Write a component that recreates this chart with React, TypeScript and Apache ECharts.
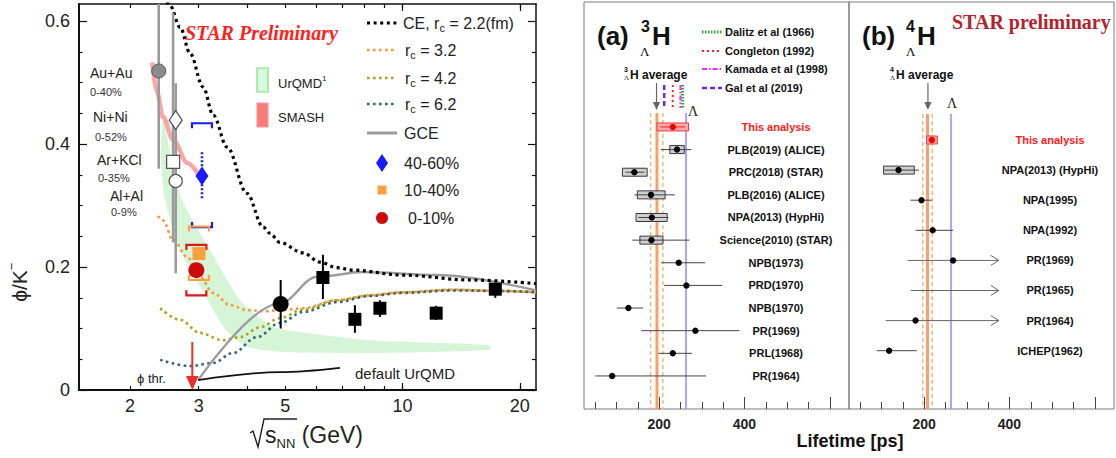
import React, { useEffect, useRef } from "react";
import * as echarts from "echarts";

// ---------------- φ/K⁻ versus √sNN ----------------
const energyTicks = [2, 3, 4, 5, 6, 7, 8, 9, 10, 20];
const energyMajor = [10, 20];
const energyLabels = [2, 3, 5, 10, 20];
const ratioMajor = [0, 0.2, 0.4, 0.6];
const ratioMinor = [0.05, 0.1, 0.15, 0.25, 0.3, 0.35, 0.45, 0.5, 0.55];

// canonical-ensemble thermal model, r_c = 2.2 fm
const ceEnergy = [2.49, 2.53, 2.69, 2.85, 3.08, 3.27, 3.55, 3.99, 4.39, 4.57, 4.85, 5.56, 6.14, 6.79, 7.46, 10.0, 14.9, 22.0];
const ceRatio = [0.632, 0.626, 0.59, 0.548, 0.493, 0.447, 0.395, 0.32, 0.265, 0.255, 0.24, 0.223, 0.208, 0.199, 0.195, 0.187, 0.179, 0.173];
// r_c = 3.2
const rc32Energy = [2.36, 2.43, 2.58, 2.81, 3.02, 3.27, 3.61, 3.99, 4.49, 4.85, 5.56, 6.79, 8.25, 10.0, 13.5, 18.1, 22.0];
const rc32Ratio = [0.283, 0.276, 0.244, 0.216, 0.184, 0.158, 0.138, 0.13, 0.128, 0.13, 0.133, 0.146, 0.154, 0.159, 0.163, 0.161, 0.159];
// r_c = 4.2
const rc42Energy = [2.39, 2.69, 3.02, 3.46, 3.83, 4.31, 4.85, 5.56, 6.79, 8.25, 10.0, 13.5, 18.1, 22.0];
const rc42Ratio = [0.133, 0.114, 0.093, 0.081, 0.086, 0.102, 0.117, 0.131, 0.146, 0.154, 0.159, 0.163, 0.161, 0.159];
// r_c = 6.2
const rc62Energy = [2.39, 2.85, 3.27, 3.67, 4.23, 4.85, 5.56, 6.79, 8.25, 10.0, 13.5, 18.1, 22.0];
const rc62Ratio = [0.049, 0.039, 0.044, 0.06, 0.086, 0.109, 0.127, 0.143, 0.153, 0.158, 0.162, 0.161, 0.159];
// grand-canonical ensemble
const gceEnergy = [2.99, 4.85, 6.03, 7.91, 12.25, 22.0];
const gceRatio = [0.016, 0.141, 0.184, 0.192, 0.187, 0.162];
// default UrQMD
const urqmdDefEnergy = [2.99, 4.85, 6.91];
const urqmdDefRatio = [0.016, 0.029, 0.036];
// SMASH
const smashEnergy = [2.28, 2.35, 2.43, 2.58, 2.81, 3.02];
const smashRatio = [0.533, 0.483, 0.444, 0.407, 0.369, 0.347];
// UrQMD band (upper and lower edges)
const urqmdUpEnergy = [2.43, 2.53, 2.72, 3.21, 3.83, 4.57, 4.94, 8.25, 16.75];
const urqmdUpRatio = [0.444, 0.39, 0.309, 0.228, 0.146, 0.105, 0.098, 0.081, 0.073];
const urqmdLoEnergy = [2.4, 2.46, 2.69, 3.17, 3.5, 3.99, 4.94, 8.25, 16.75];
const urqmdLoRatio = [0.38, 0.309, 0.228, 0.146, 0.1, 0.07, 0.062, 0.06, 0.065];

// world data (black)
const worldSqEnergy = [6.25, 7.55, 8.75, 12.2, 17.3];
const worldSqRatio = [0.183, 0.115, 0.133, 0.125, 0.164];
const worldSqLow = [0.148, 0.093, 0.119, 0.114, 0.15];
const worldSqHigh = [0.22, 0.138, 0.146, 0.137, 0.171];
const agsEnergy = [4.87];
const agsRatio = [0.14];
const agsLow = [0.1];
const agsHigh = [0.179];

// HADES / FOPI systems
const sysNames = ["Au+Au", "Ni+Ni", "Ar+KCl", "Al+Al"];
const sysCentrality = ["0-40%", "0-52%", "0-35%", "0-9%"];
const sysEnergy = [2.37, 2.62, 2.58, 2.62];
const sysRatio = [0.519, 0.439, 0.371, 0.34];
const sysBarEnergy = [2.37, 2.58, 2.62];
const sysBarLow = [0.36, 0.24, 0.19];
const sysBarHigh = [0.628, 0.613, 0.499];

// STAR 3 GeV, by centrality
const centLabels = ["40-60%", "10-40%", "0-10%"];
const centEnergy = [3.06, 3.006, 2.96];
const centRatio = [0.348, 0.222, 0.195];
const centStatLow = [0.312, 0.216, 0.188];
const centStatHigh = [0.387, 0.228, 0.202];
const centSysLow = [0.265, 0.179, 0.154];
const centSysHigh = [0.434, 0.266, 0.236];

const phiThreshold = 2.89;
const phiThresholdArrowTop = 0.078;

// ---------------- hypertriton / ⁴ΛH lifetimes ----------------
const lifeMinor = [50, 100, 150, 250, 300, 350, 450, 500, 550];
const lifeMajor = [200, 400, 600];
const lifeLabels = [200, 400];
const LIFE_MIN = 24;
const LIFE_MAX = 645;

const h3Labels = ["This analysis", "PLB(2019) (ALICE)", "PRC(2018) (STAR)", "PLB(2016) (ALICE)", "NPA(2013) (HypHi)", "Science(2010) (STAR)", "NPB(1973)", "PRD(1970)", "NPB(1970)", "PR(1969)", "PRL(1968)", "PR(1964)"];
const h3Lifetime = [232, 242, 142, 181, 183, 182, 246, 264, 128, 285, 232, 90];
const h3StatLow = [203, 204, 121, 142, 151, 137, 205, 212, 101, 158, 198, 50];
const h3StatHigh = [261, 276, 166, 237, 222, 271, 308, 348, 163, 388, 277, 310];
const h3SysLow = [195, 225, 114, 149, 146, 155, null, null, null, null, null, null];
const h3SysHigh = [269, 259, 172, 214, 219, 209, null, null, null, null, null, null];
const h3LowerLimit = h3Labels.map(() => false);
const h3RowMin = -5.52;
const h3RowMax = 12.46;

const h4Labels = ["This analysis", "NPA(2013) (HypHi)", "NPA(1995)", "NPA(1992)", "PR(1969)", "PR(1965)", "PR(1964)", "ICHEP(1962)"];
const h4Lifetime = [218, 140, 194, 220, 268, null, 180, 118];
const h4StatLow = [212, 107, 168, 180, 161, 169, 110, 89];
const h4StatHigh = [224, 188, 218, 268, 375, 375, 375, 183];
const h4SysLow = [206, 105, null, null, null, null, null, null];
const h4SysHigh = [231, 177, null, null, null, null, null, null];
const h4LowerLimit = [false, false, false, false, true, true, true, false];
const h4RowMin = -4.585;
const h4RowMax = 8.937;

// reference lines: average −σ, average, average +σ, free Λ
const h3RefLifetime = [180, 195, 209, 263];
const h4RefLifetime = [197, 208, 219, 263];
const h3RefFromRow = -0.62;
const h4RefFromRow = -0.86;
const h3AverageArrow = 194;
const h4AverageArrow = 209;

// theory predictions for ³ΛH
const theoryLabels = ["Dalitz et al (1966)", "Congleton (1992)", "Kamada et al (1998)", "Gal et al (2019)"];
const theoryLifetime = [255, 232, 250, 212];

// ---------------- styles ----------------
const SANS = '"Liberation Sans", Arial, Helvetica, sans-serif';
const SERIF = '"Liberation Serif", "Times New Roman", serif';
const C_ORANGE = "#f7963a";
const C_OLIVE = "#a5a522";
const C_TEAL = "#2f6a70";
const C_GCE = "#9c9c9c";
const C_BLUE = "#1a1aff";
const C_SQ = "#ffa040";
const C_RED = "#cc0a0a";
const refStyles = [
  { color: "#f7b07e", width: 1.4, dash: [4, 3] },
  { color: "#f6a06a", width: 3, dash: null },
  { color: "#f7b07e", width: 1.4, dash: [4, 3] },
  { color: "#8a8aff", width: 1.5, dash: null },
];
const theoryStyles = [
  { color: "#22b422", width: 3, dash: [1.5, 1.5] },
  { color: "#ff2020", width: 2, dash: [2, 3] },
  { color: "#ff22ff", width: 2, dash: [5, 2, 1.5, 2] },
  { color: "#7722dd", width: 2.5, dash: [5, 3] },
];
const bracketColors = [C_BLUE, C_SQ, "#dd1a1a"];

const LOG = (e: number) => Math.log10(e);
const pts = (xs: number[], ys: number[]) => xs.map((x, i) => [LOG(x), ys[i]]);

let measureCtx: CanvasRenderingContext2D | null = null;
function textWidth(text: string, font: string) {
  if (!measureCtx) measureCtx = document.createElement("canvas").getContext("2d");
  measureCtx!.font = font;
  return measureCtx!.measureText(text).width;
}

function txt(x: number, y: number, text: string, font: string, fill = "#222", align = "left") {
  return {
    type: "text",
    x,
    y,
    z: 50,
    style: { text, font, fill, textAlign: align, textVerticalAlign: "middle", align, verticalAlign: "middle" },
  };
}

type Part = { t: string; font: string; dy?: number; dx?: number; fill?: string };
function run(x: number, y: number, parts: Part[], fill = "#222") {
  const out: any[] = [];
  let cx = x;
  for (const p of parts) {
    cx += p.dx ?? 0;
    out.push(txt(cx, y + (p.dy ?? 0), p.t, p.font, p.fill ?? fill));
    cx += textWidth(p.t, p.font);
  }
  return out;
}

function seg(x1: number, y1: number, x2: number, y2: number, stroke: string, lineWidth: number, lineDash: number[] | null = null) {
  return { type: "line", z: 50, shape: { x1, y1, x2, y2 }, style: { stroke, lineWidth, lineDash } };
}

function rowRenderer(labels: string[], value: (number | null)[], statLo: number[], statHi: number[], sysLo: (number | null)[], sysHi: (number | null)[], lower: boolean[], labelOffset: number) {
  return (params: any, api: any) => {
    const i = params.dataIndex;
    const cs = params.coordSys;
    const y = api.coord([100, i])[1];
    const X = (v: number) => api.coord([v, i])[0];
    const hot = i === 0;
    const children: any[] = [];
    if (sysLo[i] != null) {
      const x1 = X(sysLo[i] as number);
      const x2 = X(sysHi[i] as number);
      children.push({
        type: "rect",
        shape: { x: x1, y: y - 4, width: x2 - x1, height: 8 },
        style: { fill: hot ? "#f8a8a8" : "#d0d0d0", stroke: hot ? "#ec3a3a" : "#3a3a3a", lineWidth: 1 },
      });
    }
    const s1 = X(statLo[i]);
    const s2 = X(statHi[i]);
    const barColor = hot ? "#e82020" : lower[i] ? "#666" : "#444";
    children.push({ type: "line", shape: { x1: s1, y1: y, x2: s2, y2: y }, style: { stroke: barColor, lineWidth: 1 } });
    if (lower[i]) {
      children.push({
        type: "polyline",
        shape: { points: [[s2 - 8, y - 5], [s2, y], [s2 - 8, y + 5]] },
        style: { stroke: "#666", lineWidth: 1, fill: null },
      });
    }
    if (value[i] != null) {
      children.push({ type: "circle", shape: { cx: X(value[i] as number), cy: y, r: 3.2 }, style: { fill: hot ? "#ee0000" : "#000" } });
    }
    children.push({
      type: "text",
      x: cs.x + labelOffset,
      y,
      style: {
        text: labels[i],
        font: `bold 11px ${SANS}`,
        fill: hot ? "#ff1a1a" : "#111",
        textAlign: "center",
        textVerticalAlign: "middle",
        align: "center",
        verticalAlign: "middle",
      },
    });
    return { type: "group", children };
  };
}

function vlineRenderer(styles: { color: string; width: number; dash: number[] | null }[]) {
  return (params: any, api: any) => {
    const v = api.value(0);
    const a = api.coord([v, api.value(1)]);
    const b = api.coord([v, api.value(2)]);
    const st = styles[params.dataIndex];
    return {
      type: "line",
      shape: { x1: a[0], y1: a[1], x2: b[0], y2: b[1] },
      style: { stroke: st.color, lineWidth: st.width, lineDash: st.dash },
    };
  };
}

function arrowRenderer(color: string, width: number, head: number, filled: boolean) {
  return (params: any, api: any) => {
    const v = api.value(0);
    const a = api.coord([v, api.value(1)]);
    const b = api.coord([v, api.value(2)]);
    const dir = b[1] > a[1] ? 1 : -1;
    return {
      type: "group",
      children: [
        { type: "line", shape: { x1: a[0], y1: a[1], x2: b[0], y2: b[1] - dir * head * 0.6 }, style: { stroke: color, lineWidth: width } },
        {
          type: "polygon",
          shape: { points: [[b[0] - head * 0.45, b[1] - dir * head], [b[0] + head * 0.45, b[1] - dir * head], [b[0], b[1]]] },
          style: filled ? { fill: color } : { fill: "#fff", stroke: color, lineWidth: 1 },
        },
      ],
    };
  };
}

function buildOption() {
  const L = { xAxisIndex: 0, yAxisIndex: 0 };
  const A = { xAxisIndex: 4, yAxisIndex: 4 };
  const B = { xAxisIndex: 6, yAxisIndex: 5 };
  const lineSeries = (name: string, xs: number[], ys: number[], color: string, width: number, dash: any, z = 3) => ({
    type: "line",
    name,
    ...L,
    data: pts(xs, ys),
    showSymbol: false,
    smooth: 0.35,
    smoothMonotone: "x",
    z,
    lineStyle: { color, width, type: dash },
  });
  const barSeries = (xs: number[], lo: number[], hi: number[], color: string, width: number, dash: any = null) => ({
    type: "custom",
    ...L,
    z: 4,
    data: xs.map((x, i) => [LOG(x), lo[i], hi[i]]),
    renderItem: (p: any, api: any) => {
      const a = api.coord([api.value(0), api.value(1)]);
      const b = api.coord([api.value(0), api.value(2)]);
      return { type: "line", shape: { x1: a[0], y1: a[1], x2: b[0], y2: b[1] }, style: { stroke: color, lineWidth: width, lineDash: dash } };
    },
  });
  const scatter = (xs: number[], ys: number[], symbol: string, size: any, color: string, border: string, bw: number) => ({
    type: "scatter",
    ...L,
    z: 6,
    data: pts(xs, ys),
    symbol,
    symbolSize: size,
    itemStyle: { color, borderColor: border, borderWidth: bw, opacity: 1 },
  });

  const series: any[] = [
    // UrQMD band
    {
      type: "custom",
      ...L,
      z: 1,
      data: [[LOG(3), 0.2]],
      renderItem: (p: any, api: any) => {
        const up = urqmdUpEnergy.map((e, i) => api.coord([LOG(e), urqmdUpRatio[i]]));
        const lo = urqmdLoEnergy.map((e, i) => api.coord([LOG(e), urqmdLoRatio[i]])).reverse();
        return { type: "polygon", shape: { points: up.concat(lo), smooth: 0.2 }, style: { fill: "#d6f5d6" } };
      },
    },
    lineSeries("SMASH", smashEnergy, smashRatio, "rgba(244,92,92,0.55)", 4.5, "solid", 2),
    lineSeries("CE rc=4.2", rc42Energy, rc42Ratio, C_OLIVE, 2.6, [2.6, 3.4]),
    lineSeries("CE rc=3.2", rc32Energy, rc32Ratio, C_ORANGE, 2.6, [2.6, 3.4]),
    lineSeries("CE rc=6.2", rc62Energy, rc62Ratio, C_TEAL, 2.6, [2.6, 3.4]),
    lineSeries("GCE", gceEnergy, gceRatio, C_GCE, 2.4, "solid"),
    lineSeries("default UrQMD", urqmdDefEnergy, urqmdDefRatio, "#111", 1.8, "solid"),
    lineSeries("CE rc=2.2", ceEnergy, ceRatio, "#000", 3.2, [3, 3.6]),
    barSeries(sysBarEnergy, sysBarLow, sysBarHigh, "#9a9a9a", 2.6),
    barSeries(worldSqEnergy, worldSqLow, worldSqHigh, "#000", 2),
    barSeries(agsEnergy, agsLow, agsHigh, "#000", 2),
    barSeries(centEnergy.slice(0, 1), centStatLow.slice(0, 1), centStatHigh.slice(0, 1), C_BLUE, 2.6, [2, 2]),
    // systematic brackets for the STAR 3 GeV points
    {
      type: "custom",
      ...L,
      z: 5,
      data: centEnergy.map((e, i) => [LOG(e), centSysLow[i], centSysHigh[i]]),
      renderItem: (p: any, api: any) => {
        const lo = api.coord([api.value(0), api.value(1)]);
        const hi = api.coord([api.value(0), api.value(2)]);
        const w = 10;
        const t = 5;
        const c = bracketColors[p.dataIndex];
        return {
          type: "group",
          children: [
            { type: "polyline", shape: { points: [[hi[0] - w, hi[1] + t], [hi[0] - w, hi[1]], [hi[0] + w, hi[1]], [hi[0] + w, hi[1] + t]] }, style: { stroke: c, lineWidth: 2.2, fill: null } },
            { type: "polyline", shape: { points: [[lo[0] - w, lo[1] - t], [lo[0] - w, lo[1]], [lo[0] + w, lo[1]], [lo[0] + w, lo[1] - t]] }, style: { stroke: c, lineWidth: 2.2, fill: null } },
          ],
        };
      },
    },
    // φ production threshold
    {
      type: "custom",
      ...L,
      z: 5,
      data: [[LOG(phiThreshold), phiThresholdArrowTop, 0]],
      renderItem: arrowRenderer("#ee2a2a", 2, 14, true),
    },
    scatter([sysEnergy[0]], [sysRatio[0]], "circle", 14, "#8c8c8c", "#555", 1),
    scatter([sysEnergy[1]], [sysRatio[1]], "diamond", [13, 19], "#fff", "#555", 1.3),
    scatter([sysEnergy[2]], [sysRatio[2]], "rect", 13, "#fff", "#555", 1.3),
    scatter([sysEnergy[3]], [sysRatio[3]], "circle", 13, "#fff", "#555", 1.3),
    scatter([centEnergy[0]], [centRatio[0]], "diamond", [13, 19], C_BLUE, C_BLUE, 0),
    scatter([centEnergy[1]], [centRatio[1]], "rect", 13, C_SQ, C_SQ, 0),
    scatter([centEnergy[2]], [centRatio[2]], "circle", 16, C_RED, C_RED, 0),
    scatter(worldSqEnergy, worldSqRatio, "rect", 13, "#000", "#000", 0),
    scatter(agsEnergy, agsRatio, "circle", 16, "#000", "#000", 0),

    // ---- panel (a): ³ΛH ----
    { type: "custom", ...A, z: 2, data: h3RefLifetime.map((v) => [v, h3RefFromRow, h3RowMax]), renderItem: vlineRenderer(refStyles) },
    { type: "custom", ...A, z: 2, data: theoryLifetime.map((v) => [v, -1.855, -0.84]), renderItem: vlineRenderer(theoryStyles) },
    { type: "custom", ...A, z: 2, data: [[h3AverageArrow, -1.94, -0.75]], renderItem: arrowRenderer("#666", 1.2, 8, true) },
    {
      type: "custom",
      ...A,
      z: 3,
      data: h3Labels.map((_, i) => [i]),
      renderItem: rowRenderer(h3Labels, h3Lifetime, h3StatLow, h3StatHigh, h3SysLow, h3SysHigh, h3LowerLimit, 192),
    },
    // ---- panel (b): ⁴ΛH ----
    { type: "custom", ...B, z: 2, data: h4RefLifetime.map((v) => [v, h4RefFromRow, h4RowMax]), renderItem: vlineRenderer(refStyles) },
    { type: "custom", ...B, z: 2, data: [[h4AverageArrow, -1.894, -0.997]], renderItem: arrowRenderer("#666", 1.2, 8, true) },
    {
      type: "custom",
      ...B,
      z: 3,
      data: h4Labels.map((_, i) => [i]),
      renderItem: rowRenderer(h4Labels, h4Lifetime, h4StatLow, h4StatHigh, h4SysLow, h4SysHigh, h4LowerLimit, 201),
    },
  ];

  const leftX = (position: string, ticks: number[], length: number, line: any, labels: boolean) => ({
    gridIndex: 0,
    type: "value",
    min: LOG(1.48),
    max: LOG(22),
    position,
    axisLine: line ? { show: true, onZero: false, lineStyle: line } : { show: false, onZero: false },
    axisTick: { show: true, inside: true, length, customValues: ticks.map(LOG), lineStyle: { color: "#111", width: 1.2 } },
    axisLabel: labels
      ? {
          show: true,
          customValues: energyLabels.map(LOG),
          formatter: (v: number) => String(Math.round(Math.pow(10, v))),
          fontSize: 18,
          fontFamily: SANS,
          color: "#222",
          margin: 7,
        }
      : { show: false },
    splitLine: { show: false },
  });
  const leftY = (position: string, ticks: number[], length: number, line: any, labels: boolean) => ({
    gridIndex: 0,
    type: "value",
    min: 0,
    max: 0.628,
    position,
    axisLine: line ? { show: true, onZero: false, lineStyle: line } : { show: false, onZero: false },
    axisTick: { show: true, inside: true, length, customValues: ticks, lineStyle: { color: "#111", width: 1.2 } },
    axisLabel: labels
      ? {
          show: true,
          customValues: ratioMajor,
          formatter: (v: number) => (v === 0 ? "0" : v.toFixed(1)),
          fontSize: 18,
          fontFamily: SANS,
          color: "#222",
          margin: 9,
        }
      : { show: false },
    splitLine: { show: false },
  });
  const lifeX = (grid: number, ticks: number[], length: number, labels: boolean) => ({
    gridIndex: grid,
    type: "value",
    min: LIFE_MIN,
    max: LIFE_MAX,
    position: "bottom",
    axisLine: { show: false, onZero: false },
    axisTick: { show: true, inside: true, length, customValues: ticks, lineStyle: { color: "#444", width: 1 } },
    axisLabel: labels
      ? { show: true, customValues: lifeLabels, fontSize: 14, fontWeight: "bold", fontFamily: SANS, color: "#222", margin: 8 }
      : { show: false },
    splitLine: { show: false },
  });

  const F = (px: number, w = "") => `${w} ${px}px ${SANS}`.trim();
  const graphic: any[] = [];

  // ---- left panel annotations ----
  graphic.push(txt(185, 33, "STAR Preliminary", `italic bold 20px ${SERIF}`, "#ff2020"));
  const sysLabelPos = [
    [90, 73, 90, 92],
    [93, 117, 95, 137],
    [97, 160, 98, 178],
    [110, 196, 111, 212],
  ];
  sysNames.forEach((n, i) => {
    const p = sysLabelPos[i];
    graphic.push(txt(p[0], p[1], n, F(14), "#222"));
    graphic.push(txt(p[2], p[3], sysCentrality[i], F(11), "#333"));
  });
  graphic.push({ type: "rect", z: 50, shape: { x: 257, y: 68, width: 11, height: 24 }, style: { fill: "#d9f7d9", stroke: "#7fdf7f", lineWidth: 1.2 } });
  graphic.push(...run(278, 83, [{ t: "UrQMD", font: F(13) }, { t: "1", font: F(8), dy: -5 }]));
  graphic.push({ type: "rect", z: 50, shape: { x: 257, y: 103, width: 11, height: 24 }, style: { fill: "#f87a7a", stroke: "#f59a9a", lineWidth: 1.2 } });
  graphic.push(txt(278, 117, "SMASH", F(13), "#222"));

  // legend on the right of the left panel
  const lg = [
    { y: 23, color: "#000", w: 3.2, dash: [3, 3.6], parts: [{ t: "CE, r", font: F(16) }, { t: "c", font: F(11), dy: 5 }, { t: " = 2.2(fm)", font: F(16) }], x: 403 },
    { y: 50, color: C_ORANGE, w: 2.6, dash: [2.6, 3.4], parts: [{ t: "r", font: F(16) }, { t: "c", font: F(11), dy: 5 }, { t: " = 3.2", font: F(16) }], x: 405 },
    { y: 78, color: C_OLIVE, w: 2.6, dash: [2.6, 3.4], parts: [{ t: "r", font: F(16) }, { t: "c", font: F(11), dy: 5 }, { t: " = 4.2", font: F(16) }], x: 405 },
    { y: 104, color: C_TEAL, w: 2.6, dash: [2.6, 3.4], parts: [{ t: "r", font: F(16) }, { t: "c", font: F(11), dy: 5 }, { t: " = 6.2", font: F(16) }], x: 405 },
    { y: 133, color: C_GCE, w: 3, dash: null, parts: [{ t: "GCE", font: F(16) }], x: 404 },
  ];
  lg.forEach((l) => {
    graphic.push(seg(367, l.y, 397, l.y, l.color, l.w, l.dash));
    graphic.push(...run(l.x, l.y, l.parts as Part[]));
  });
  graphic.push({ type: "polygon", z: 50, shape: { points: [[382, 154], [388, 163], [382, 172], [376, 163]] }, style: { fill: C_BLUE } });
  graphic.push(txt(404, 163, centLabels[0], F(16)));
  graphic.push({ type: "rect", z: 50, shape: { x: 377.5, y: 185.5, width: 9, height: 9 }, style: { fill: C_SQ } });
  graphic.push(txt(404, 190, centLabels[1], F(16)));
  graphic.push({ type: "circle", z: 50, shape: { cx: 382, cy: 218, r: 6 }, style: { fill: C_RED } });
  graphic.push(txt(408, 218, centLabels[2], F(16)));

  graphic.push(txt(355, 373, "default UrQMD", F(15), "#222"));
  graphic.push(txt(137, 378, "ϕ thr.", F(13), "#222"));

  // y axis title
  const yt1 = "ϕ/K";
  const ytFont = F(21);
  const ytW = textWidth(yt1, ytFont) + 8;
  graphic.push({
    type: "group",
    x: 19,
    y: 282,
    rotation: Math.PI / 2,
    z: 50,
    children: [
      { type: "text", x: -ytW / 2, y: 0, style: { text: yt1, font: ytFont, fill: "#222", textVerticalAlign: "middle", verticalAlign: "middle" } },
      { type: "text", x: -ytW / 2 + ytW - 8, y: -8, style: { text: "−", font: F(13), fill: "#222", textVerticalAlign: "middle", verticalAlign: "middle" } },
    ],
  });
  // x axis title
  graphic.push({ type: "polyline", z: 50, shape: { points: [[250, 433], [253, 431], [258, 447], [264, 419], [297, 419]] }, style: { stroke: "#222", lineWidth: 1.4, fill: null } });
  graphic.push(...run(265, 435, [{ t: "s", font: F(23) }, { t: "NN", font: F(13), dy: 8 }, { t: " (GeV)", font: F(23) }]));

  // ---- panel (a) titles ----
  graphic.push(txt(597, 36, "(a)", F(26, "bold"), "#111"));
  graphic.push(txt(641, 26, "3", F(16, "bold"), "#111"));
  graphic.push(txt(652, 36, "H", F(26, "bold"), "#111"));
  graphic.push(txt(640, 51, "Λ", `13px ${SERIF}`, "#111"));
  theoryLabels.forEach((t, i) => {
    const y = [32, 51, 69, 88][i];
    const st = theoryStyles[i];
    graphic.push(seg(702, y, 722, y, st.color, st.width, st.dash));
    graphic.push(txt(725, y, t, F(11, "bold"), "#111"));
  });
  graphic.push(txt(624, 69, "3", F(7, "bold"), "#111"));
  graphic.push(txt(624, 78, "Λ", `7px ${SERIF}`, "#111"));
  graphic.push(txt(630, 75, "H average", F(12, "bold"), "#111"));
  graphic.push(txt(688, 111, "Λ", `14px ${SERIF}`, "#222"));

  // ---- panel (b) titles ----
  graphic.push(txt(862, 36, "(b)", F(26, "bold"), "#111"));
  graphic.push(txt(906, 26, "4", F(16, "bold"), "#111"));
  graphic.push(txt(917, 36, "H", F(26, "bold"), "#111"));
  graphic.push(txt(906, 51, "Λ", `13px ${SERIF}`, "#111"));
  graphic.push(txt(952, 22, "STAR preliminary", `bold 20px ${SERIF}`, "#b3232b"));
  graphic.push(txt(890, 69, "4", F(7, "bold"), "#111"));
  graphic.push(txt(890, 78, "Λ", `7px ${SERIF}`, "#111"));
  graphic.push(txt(896, 75, "H average", F(12, "bold"), "#111"));
  graphic.push(txt(947, 103, "Λ", `14px ${SERIF}`, "#222"));

  graphic.push(txt(850, 441, "Lifetime [ps]", F(18, "bold"), "#111", "center"));

  return {
    animation: false,
    backgroundColor: "#fff",
    grid: [
      { left: 79, top: 4, width: 457, height: 386, show: false },
      { left: 584, top: 2, width: 265, height: 407, show: true, borderColor: "#7a7a7a", borderWidth: 1, backgroundColor: "transparent" },
      { left: 849, top: 2, width: 265, height: 407, show: true, borderColor: "#7a7a7a", borderWidth: 1, backgroundColor: "transparent" },
    ],
    xAxis: [
      leftX("bottom", energyTicks, 4, { color: "#111", width: 2 }, true),
      leftX("bottom", energyMajor, 7, null, false),
      leftX("top", energyTicks, 4, { color: "#111", width: 1.5 }, false),
      leftX("top", energyMajor, 7, null, false),
      lifeX(1, lifeMinor, 7, true),
      lifeX(1, lifeMajor, 12, false),
      lifeX(2, lifeMinor, 7, true),
      lifeX(2, lifeMajor, 12, false),
    ],
    yAxis: [
      leftY("left", ratioMajor, 8, { color: "#111", width: 2 }, true),
      leftY("left", ratioMinor, 3.5, null, false),
      leftY("right", ratioMajor, 8, { color: "#111", width: 1.5 }, false),
      leftY("right", ratioMinor, 4, null, false),
      { gridIndex: 1, type: "value", inverse: true, min: h3RowMin, max: h3RowMax, show: false },
      { gridIndex: 2, type: "value", inverse: true, min: h4RowMin, max: h4RowMax, show: false },
    ],
    series,
    graphic,
  };
}

export default function App() {
  const ref = useRef<HTMLDivElement>(null);
  useEffect(() => {
    const chart = echarts.init(ref.current!, null, { renderer: "svg" });
    chart.setOption(buildOption() as any);
    return () => chart.dispose();
  }, []);
  return <div ref={ref} style={{ position: "fixed", left: 0, top: 0, width: 1116, height: 458, background: "#fff" }} />;
}
